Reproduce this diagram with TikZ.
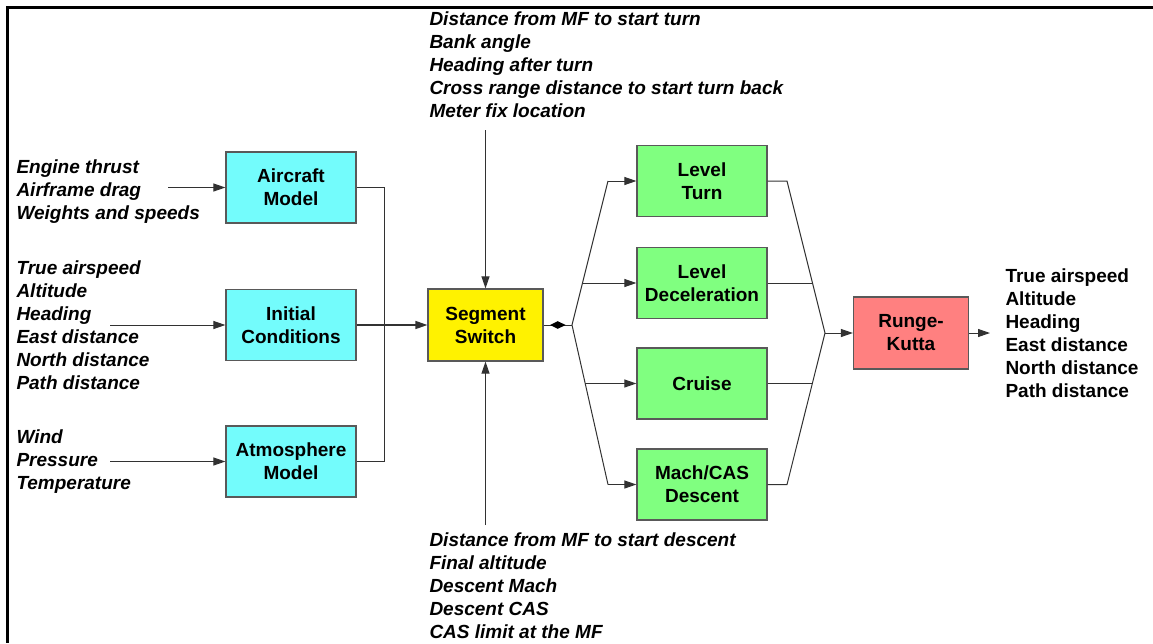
\documentclass[tikz,border=0pt]{standalone}
\usepackage{fontspec}
\setmainfont{Liberation Sans}
\usepackage{tikz}
\usetikzlibrary{arrows.meta,shapes.geometric}

\definecolor{cyanbox}{RGB}{115,252,252}
\definecolor{greenbox}{RGB}{128,255,128}
\definecolor{redbox}{RGB}{255,128,128}
\definecolor{wire}{RGB}{50,50,50}

\begin{document}
\begin{tikzpicture}[->,>={Triangle[length=12pt,width=8pt]},x=1pt,y=-1pt,line width=1pt,draw=wire,
    font=\fontsize{19}{23}\selectfont\bfseries]

    \tikzstyle{block}=[draw=black!65, line width=1.2pt, minimum width=130pt, minimum height=71pt, align=center, inner sep=2pt]
    \tikzstyle{small block}=[block, minimum width=115pt, minimum height=72pt]
    \tikzstyle{inputs}=[align=left, anchor=west, inner sep=0pt, font=\fontsize{19}{23}\selectfont\bfseries\itshape]
    \tikzstyle{outputs}=[align=left, anchor=west, inner sep=0pt]

    \useasboundingbox (0,0) rectangle (1153,643);
    \draw[-, black, line width=3pt] (1153,7.5) -- (7.5,7.5) -- (7.5,643);

    \node[block, fill=cyanbox]        (aircraft) at (291,187.5) {Aircraft\\Model};
    \node[block, fill=cyanbox]        (initial)  at (291,325)   {Initial\\Conditions};
    \node[block, fill=cyanbox]        (atmos)    at (291,461.5) {Atmosphere\\Model};
    \node[small block, fill=yellow]   (switch)   at (485.5,325) {Segment\\Switch};
    \node[block, fill=greenbox]       (turn)     at (702,181)   {Level\\Turn};
    \node[block, fill=greenbox]       (decel)    at (702,283)   {Level\\Deceleration};
    \node[block, fill=greenbox]       (cruise)   at (702,383.5) {Cruise};
    \node[block, fill=greenbox]       (descent)  at (702,484.5) {Mach/CAS\\Descent};
    \node[small block, fill=redbox]   (rk)       at (911,333)   {Runge-\\Kutta};

    \node[inputs]  (aircraftinputs) at (16,191.5) {Engine thrust\\Airframe drag\\Weights and speeds};
    \node[inputs]  (stateinputs)    at (16,325.5) {True airspeed\\Altitude\\Heading\\East distance\\North distance\\Path distance};
    \node[inputs]  (weatherinputs)  at (16,462)   {Wind\\Pressure\\Temperature};
    \node[inputs]  (turninputs)     at (429,65)   {Distance from MF to start turn\\Bank angle\\Heading after turn\\Cross range distance to start turn back\\Meter fix location};
    \node[inputs]  (descentinputs)  at (429,586)  {Distance from MF to start descent\\Final altitude\\Descent Mach\\Descent CAS\\CAS limit at the MF};
    \node[outputs] (results)        at (1005,333) {True airspeed\\Altitude\\Heading\\East distance\\North distance\\Path distance};

    \coordinate (engine)   at (168,187.5);
    \coordinate (state)    at (110,325);
    \coordinate (weather)  at (110,461.5);
    \coordinate (turnin)   at (485.5,130);
    \coordinate (descin)   at (485.5,525);
    \coordinate (fork)     at (572,325);
    \coordinate (upfork)   at (608,181);
    \coordinate (decelfork) at (582.5,283);
    \coordinate (cruisefork) at (585.2,383.5);
    \coordinate (downfork) at (608,484.5);
    \coordinate (upjoin)   at (787,181);
    \coordinate (deceljoin) at (812.5,283);
    \coordinate (join)     at (825,333);
    \coordinate (cruisejoin) at (812.3,383.5);
    \coordinate (downjoin) at (787,484.5);
    \coordinate (result)   at (990,333);

    \draw (engine) -- (aircraft);
    \draw (state) -- (initial);
    \draw (weather) -- (atmos);
    \draw[-] (aircraft.east) -- ++(28,0) |- (atmos.east);
    \draw[line width=1.5pt] (initial) -- (switch);
    \draw (turnin) -- (switch);
    \draw (descin) -- (switch);

    \draw[-] (switch.east) -- node[diamond, fill=black, inner sep=0pt, minimum width=16pt, minimum height=8pt] {} (fork);
    \draw[-] (upfork) -- (fork) -- (downfork);
    \draw (upfork) -- (turn);
    \draw (decelfork) -- (decel);
    \draw (cruisefork) -- (cruise);
    \draw (downfork) -- (descent);

    \draw[-] (turn.east) -- (upjoin) -- (join) -- (downjoin) -- (descent.east);
    \draw[-] (decel) -- (deceljoin);
    \draw[-] (cruise) -- (cruisejoin);
    \draw (join) -- (rk);
    \draw (rk) -- (result);
\end{tikzpicture}
\end{document}
